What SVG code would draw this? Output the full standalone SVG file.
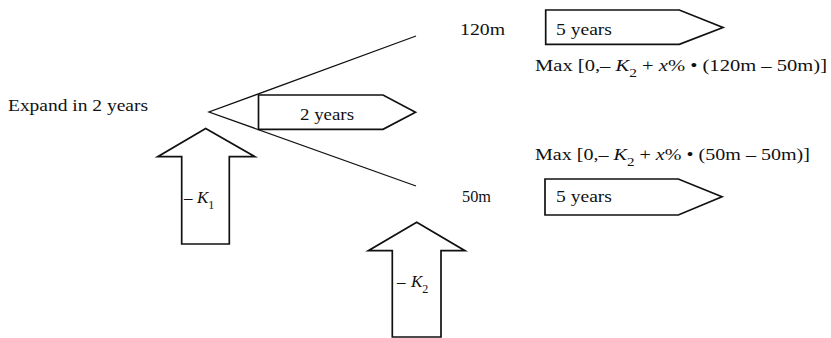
<svg xmlns="http://www.w3.org/2000/svg" width="831" height="338" viewBox="0 0 831 338">
<style>
text{font-family:"Liberation Serif","Times New Roman",serif;font-size:16px;fill:#111}
.i{font-style:italic}
.s{font-size:12px}
.k{font-size:17px}
.sh{fill:#fff;stroke:#111;stroke-width:1.7;stroke-linejoin:miter}
.ln{fill:none;stroke:#111;stroke-width:1.3}
</style>
<rect width="831" height="338" fill="#fff"/>
<g id="connectors">
<polyline class="ln" points="416,36 209,112 416,186"/>
</g>
<g id="expand-label">
<text x="8" y="111" textLength="140" lengthAdjust="spacingAndGlyphs">Expand in 2 years</text>
</g>
<g id="two-years">
<polygon class="sh" points="258.5,95 383,95 415.5,112.3 383,129.3 258.5,129.3"/>
<text x="300" y="120" textLength="54" lengthAdjust="spacingAndGlyphs">2 years</text>
</g>
<g id="k1-arrow">
<polygon class="sh" points="205.7,128.5 255,156.7 229.3,156.7 229.3,244 181.7,244 181.7,156.7 157.7,156.7"/>
<text class="k" x="184" y="203">–<tspan class="i" x="197">K</tspan><tspan class="s" dy="6">1</tspan></text>
</g>
<g id="k2-arrow">
<polygon class="sh" points="416.7,222.3 465,250.7 441,250.7 441,337 392.3,337 392.3,250.7 368.3,250.7"/>
<text class="k" x="397" y="287">–<tspan class="i" x="411">K</tspan><tspan class="s" dy="6">2</tspan></text>
</g>
<g id="node-120m">
<text x="460" y="35" textLength="45" lengthAdjust="spacingAndGlyphs">120m</text>
<polygon class="sh" points="545.7,10 679.3,10 723,27.5 679.3,44.3 545.7,44.3"/>
<text x="556" y="35" textLength="56" lengthAdjust="spacingAndGlyphs">5 years</text>
<text x="535" y="71" textLength="292" lengthAdjust="spacingAndGlyphs">Max [0,– <tspan class="i">K</tspan><tspan class="s" dy="6">2</tspan><tspan dy="-6"> + </tspan><tspan class="i">x</tspan>% • (120m – 50m)]</text>
</g>
<g id="node-50m">
<text x="535" y="160" textLength="275" lengthAdjust="spacingAndGlyphs">Max [0,– <tspan class="i">K</tspan><tspan class="s" dy="6">2</tspan><tspan dy="-6"> + </tspan><tspan class="i">x</tspan>% • (50m – 50m)]</text>
<text x="462" y="202" textLength="29" lengthAdjust="spacingAndGlyphs">50m</text>
<polygon class="sh" points="545,179 678.3,179 722,196.7 678.3,215 545,215"/>
<text x="556" y="202" textLength="56" lengthAdjust="spacingAndGlyphs">5 years</text>
</g>
</svg>
